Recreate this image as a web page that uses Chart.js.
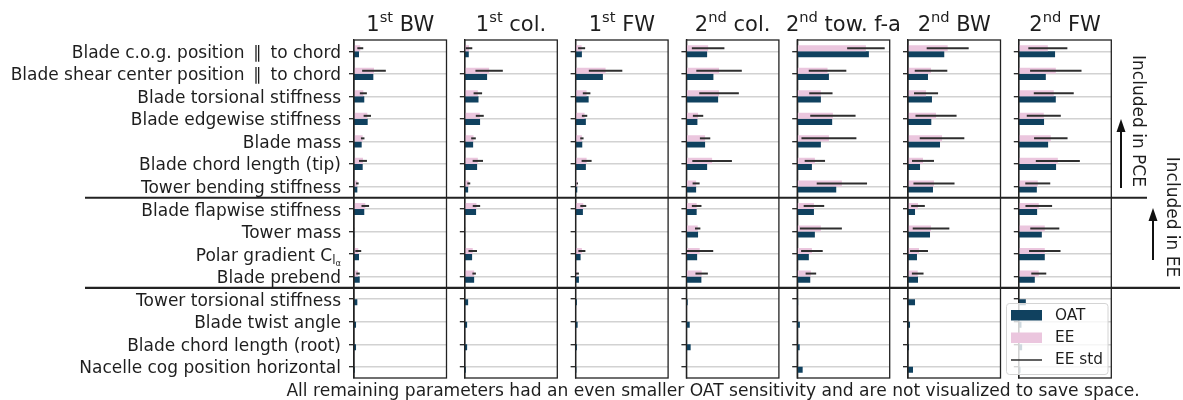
<!DOCTYPE html>
<html>
<head>
<meta charset="utf-8">
<script src="https://cdn.jsdelivr.net/npm/chart.js@4"></script>
<style>
  body { margin: 0; background: #fff; }
  #wrap { position: relative; width: 1183px; height: 400px; background: #fff; }
  #wrap canvas { position: absolute; left: 0; top: 0; }
</style>
</head>
<body>
<div id="wrap"></div>
<script>
// row labels, top to bottom
const params = [
  'Blade c.o.g. position \u2009\u2225\u2009 to chord',
  'Blade shear center position \u2009\u2225\u2009 to chord',
  'Blade torsional stiffness',
  'Blade edgewise stiffness',
  'Blade mass',
  'Blade chord length (tip)',
  'Tower bending stiffness',
  'Blade flapwise stiffness',
  'Tower mass',
  'Polar gradient C_{l_\u03b1}',
  'Blade prebend',
  'Tower torsional stiffness',
  'Blade twist angle',
  'Blade chord length (root)',
  'Nacelle cog position horizontal'
];

const titles = ['1st BW', '1st col.', '1st FW', '2nd col.', '2nd tow. f-a', '2nd BW', '2nd FW'];

// sensitivities, in % of the panel axis
const eeBW1  = [6.8, 21.6, 10.1, 14.4, 9.4, 9.7, 3.6, 12.2, 0.2, 4.6, 4.3, null, null, null, null];
const stdBW1 = [3.2, 12.8, 3.8, 4.0, 1.9, 4.3, 1.4, 4.1, 0.1, 3.2, 1.9, null, null, null, null];
const oatBW1 = [5.4, 20.9, 11.1, 14.8, 8.3, 9.4, 3.6, 11.1, 0.3, 5.4, 6.2, 3.6, 2.2, 2.2, 0.8];

const eeCol1  = [4.6, 26.3, 14.1, 16.2, 9.4, 14.1, 4.3, 12.6, 0.2, 8.6, 10.1, null, null, null, null];
const stdCol1 = [3.5, 14.8, 4.6, 4.3, 2.5, 5.6, 1.6, 4.0, 0.1, 4.6, 1.9, null, null, null, null];
const oatCol1 = [4.3, 24.1, 14.8, 16.5, 9.0, 13.3, 3.6, 12.2, 0.3, 7.9, 10.1, 3.6, 2.5, 2.5, 1.1];

const eeFW1  = [6.5, 32.4, 11.9, 9.7, 6.8, 11.9, 1.8, 8.3, 0.2, 6.8, 1.8, null, null, null, null];
const stdFW1 = [3.8, 18.1, 4.1, 2.9, 1.8, 5.4, 0.8, 3.2, 0.1, 3.8, 1.8, null, null, null, null];
const oatFW1 = [6.8, 29.5, 14.1, 11.1, 7.2, 11.1, 1.8, 7.9, 0.3, 5.4, 3.6, 1.4, 2.2, 1.4, 0.8];

const eeCol2  = [23.5, 35.3, 35.3, 12.6, 20.2, 27.8, 10.5, 11.1, 12.2, 14.4, 16.5, null, null, null, null];
const stdCol2 = [17.6, 24.6, 21.4, 5.6, 5.6, 21.4, 3.8, 5.2, 2.9, 14.6, 6.7, null, null, null, null];
const oatCol2 = [22.4, 29.2, 34.3, 11.9, 20.2, 22.4, 10.5, 11.1, 12.6, 11.6, 16.2, 1.4, 3.6, 4.6, 0.3];

const eeTow2  = [74.3, 32.8, 25.6, 38.6, 34.3, 19.1, 48.3, 18.1, 25.6, 15.9, 14.8, null, null, null, null];
const stdTow2 = [20.3, 20.3, 12.6, 24.5, 29.7, 11.0, 27.2, 11.1, 22.7, 11.7, 5.7, null, null, null, null];
const oatTow2 = [77.5, 34.3, 25.6, 37.8, 25.6, 15.9, 42.2, 18.1, 19.1, 12.6, 14.1, 1.0, 2.9, 2.7, 5.9];

const eeBW2  = [42.9, 24.9, 19.5, 30.3, 36.8, 16.2, 28.1, 10.8, 24.9, 11.9, 10.5, null, null, null, null];
const stdBW2 = [22.7, 17.6, 13.0, 22.2, 24.1, 11.9, 22.2, 7.4, 19.8, 9.7, 6.3, null, null, null, null];
const oatBW2 = [39.2, 21.6, 25.9, 25.2, 34.6, 13.0, 27.0, 7.6, 23.8, 9.7, 10.8, 7.6, 2.2, 1.1, 5.4];

const eeFW2  = [31.4, 40.0, 37.8, 27.0, 34.6, 42.2, 20.5, 21.6, 28.1, 28.1, 21.6, null, null, null, null];
const stdFW2 = [21.1, 27.8, 21.6, 18.4, 18.1, 23.8, 13.5, 14.4, 15.7, 17.0, 8.1, null, null, null, null];
const oatFW2 = [39.2, 29.2, 40.0, 27.3, 31.7, 40.3, 19.5, 19.8, 24.9, 28.1, 17.3, 7.6, 2.9, 3.6, 1.8];

const eeAll  = [eeBW1, eeCol1, eeFW1, eeCol2, eeTow2, eeBW2, eeFW2];
const stdAll = [stdBW1, stdCol1, stdFW1, stdCol2, stdTow2, stdBW2, stdFW2];
const oatAll = [oatBW1, oatCol1, oatFW1, oatCol2, oatTow2, oatBW2, oatFW2];

const BLUE = '#10415f';
const PINK = '#ebc6de';
const INK = '#1e1e1e';
const W = 1183, H = 400;
const font = s => s + 'px "DejaVu Sans"';

function drawRich(ctx, parts, x, y, align) {
  let w = 0;
  parts.forEach(p => { ctx.font = font(p.size); p.w = ctx.measureText(p.t).width; w += p.w; });
  let cx = align === 'center' ? x - w / 2 : align === 'right' ? x - w : x;
  ctx.textAlign = 'left';
  ctx.textBaseline = 'alphabetic';
  parts.forEach(p => { ctx.font = font(p.size); ctx.fillText(p.t, cx, y + (p.dy || 0)); cx += p.w; });
}

function labelParts(label) {
  const m = label.match(/^(.*)_\{(.)_(.)\}$/);
  if (!m) return [{t: label, size: 17}];
  return [{t: m[1], size: 17}, {t: m[2], size: 11.9, dy: 3}, {t: m[3], size: 8.3, dy: 5.5}];
}

function arrowUp(ctx, x, y0, y1) {
  ctx.beginPath(); ctx.moveTo(x, y0); ctx.lineTo(x, y1 + 10); ctx.stroke();
  ctx.beginPath(); ctx.moveTo(x, y1); ctx.lineTo(x - 4.5, y1 + 13); ctx.lineTo(x + 4.5, y1 + 13); ctx.closePath(); ctx.fill();
}

function makeDeco(idx) {
  return {
    id: 'deco' + idx,
    afterDatasetsDraw(chart) {
      const ctx = chart.ctx;
      const {left, right, top, bottom} = chart.chartArea;
      const xs = chart.scales.x;
      const ee = chart.data.datasets[0].data;
      const sd = stdAll[idx];
      ctx.save();
      ctx.strokeStyle = '#2e2e2e';
      ctx.lineWidth = 2;
      chart.getDatasetMeta(0).data.forEach((bar, i) => {
        if (ee[i] == null || !sd[i]) return;
        const x1 = Math.max(left, xs.getPixelForValue(ee[i] - sd[i]));
        const x2 = xs.getPixelForValue(ee[i] + sd[i]);
        ctx.beginPath(); ctx.moveTo(x1, bar.y); ctx.lineTo(x2, bar.y); ctx.stroke();
      });
      ctx.strokeStyle = '#222';
      ctx.lineWidth = 1.3;
      ctx.strokeRect(left, top, right - left, bottom - top);
      ctx.restore();
    },
    afterDraw(chart) {
      const ctx = chart.ctx;
      const {left, right} = chart.chartArea;
      const ys = chart.scales.y;
      ctx.save();
      ctx.fillStyle = INK;
      const m = titles[idx].match(/^(\d)(st|nd)\s(.+)$/);
      drawRich(ctx, [{t: m[1], size: 21}, {t: m[2], size: 14.7, dy: -9.5}, {t: ' ' + m[3], size: 21}],
        (left + right) / 2, 31, 'center');

      if (idx === 0) {
        params.forEach((p, i) => drawRich(ctx, labelParts(p), left - 13, ys.getPixelForValue(i) + 6.5, 'right'));
      }

      if (idx === titles.length - 1) {
        // legend
        ctx.beginPath();
        ctx.roundRect(1006.5, 303.5, 101.5, 71, 3);
        ctx.fillStyle = 'rgba(255,255,255,0.8)'; ctx.fill();
        ctx.strokeStyle = '#d4d4d4'; ctx.lineWidth = 1; ctx.stroke();
        ctx.fillStyle = BLUE; ctx.fillRect(1011, 310, 31, 10.5);
        ctx.fillStyle = PINK; ctx.fillRect(1011, 332.5, 31, 10.5);
        ctx.strokeStyle = '#2e2e2e'; ctx.lineWidth = 1.5;
        ctx.beginPath(); ctx.moveTo(1011, 360); ctx.lineTo(1042, 360); ctx.stroke();
        ctx.fillStyle = INK; ctx.font = font(15.3); ctx.textAlign = 'left'; ctx.textBaseline = 'middle';
        ctx.fillText('OAT', 1055, 316);
        ctx.fillText('EE', 1055, 338);
        ctx.fillText('EE std', 1055, 360.5);

        // group separators
        ctx.strokeStyle = '#222'; ctx.lineWidth = 2.2;
        const s1 = ys.getPixelForValue(6.5), s2 = ys.getPixelForValue(10.5);
        ctx.beginPath(); ctx.moveTo(85, s1); ctx.lineTo(1147, s1); ctx.stroke();
        ctx.beginPath(); ctx.moveTo(85, s2); ctx.lineTo(1180, s2); ctx.stroke();

        // arrows + rotated notes
        ctx.strokeStyle = '#111'; ctx.fillStyle = '#111'; ctx.lineWidth = 2;
        arrowUp(ctx, 1121, 188, 119);
        arrowUp(ctx, 1153, 260, 208);
        ctx.fillStyle = INK; ctx.font = font(17); ctx.textAlign = 'center'; ctx.textBaseline = 'middle';
        ctx.save(); ctx.translate(1137, 121); ctx.rotate(Math.PI / 2); ctx.fillText('Included in PCE', 0, 0); ctx.restore();
        ctx.save(); ctx.translate(1171, 217); ctx.rotate(Math.PI / 2); ctx.fillText('Included in EE', 0, 0); ctx.restore();

        ctx.font = font(17.1); ctx.textBaseline = 'alphabetic';
        ctx.fillText('All remaining parameters had an even smaller OAT sensitivity and are not visualized to save space.', 713, 396);
      }
      ctx.restore();
    }
  };
}

const wrap = document.getElementById('wrap');
titles.forEach((t, idx) => {
  const canvas = document.createElement('canvas');
  canvas.width = W; canvas.height = H;
  wrap.appendChild(canvas);
  const panelLeft = 354 + idx * 110.8;
  const panelRight = panelLeft + 92.5;
  const axisW = idx === 0 ? 354 : 20;
  new Chart(canvas.getContext('2d'), {
    type: 'bar',
    data: {
      labels: params,
      datasets: [
        { label: 'EE', data: eeAll[idx], backgroundColor: PINK, borderWidth: 0, categoryPercentage: 0.54, barPercentage: 1 },
        { label: 'OAT', data: oatAll[idx], backgroundColor: BLUE, borderWidth: 0, categoryPercentage: 0.54, barPercentage: 1 }
      ]
    },
    options: {
      indexAxis: 'y',
      responsive: false,
      animation: false,
      devicePixelRatio: 1,
      layout: { padding: { left: panelLeft - axisW, right: W - panelRight, top: 40, bottom: 22 } },
      plugins: { legend: { display: false }, tooltip: { enabled: false } },
      scales: {
        x: { display: false, min: 0, max: 100 },
        y: {
          grid: { offset: false, color: '#d2d2d2', lineWidth: 1.4, tickColor: '#222', tickLength: 5, tickWidth: 1.3 },
          border: { color: '#222', width: 1.3 },
          ticks: { autoSkip: false, padding: 0, callback: () => '' },
          afterFit: s => { s.width = axisW; }
        }
      }
    },
    plugins: [makeDeco(idx)]
  });
});
</script>
</body>
</html>
